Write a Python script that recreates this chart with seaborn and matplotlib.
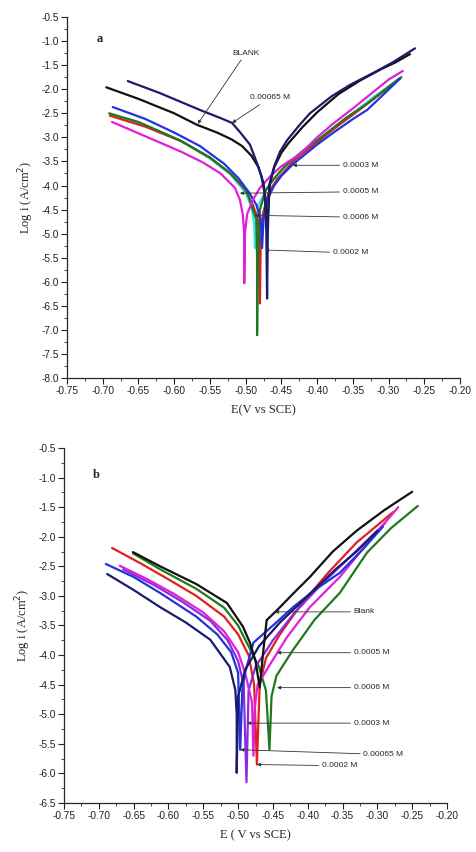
import pandas as pd
import numpy as np
import matplotlib
matplotlib.use("Agg")
import matplotlib.pyplot as plt
import seaborn as sns
from matplotlib.ticker import MultipleLocator, FormatStrFormatter

# ---- panel a : curves (E in V vs SCE, log i) ----
a_blank_E = [-0.695, -0.650, -0.600, -0.568, -0.540, -0.520, -0.505, -0.492, -0.482, -0.475, -0.472, -0.470, -0.466, -0.460, -0.450, -0.440, -0.420, -0.400, -0.370, -0.340, -0.310, -0.290, -0.270]
a_blank_L = [-1.96, -2.20, -2.50, -2.74, -2.90, -3.04, -3.18, -3.38, -3.62, -3.95, -4.40, -4.90, -3.95, -3.62, -3.32, -3.12, -2.78, -2.48, -2.10, -1.82, -1.58, -1.44, -1.27]
a_065_E = [-0.665, -0.620, -0.564, -0.535, -0.519, -0.508, -0.494, -0.485, -0.478, -0.473, -0.471, -0.470, -0.469, -0.467, -0.460, -0.452, -0.442, -0.425, -0.410, -0.380, -0.354, -0.320, -0.294, -0.263]
a_065_L = [-1.83, -2.08, -2.43, -2.60, -2.70, -2.89, -3.15, -3.50, -3.80, -4.20, -5.00, -6.35, -5.00, -4.00, -3.60, -3.30, -3.06, -2.75, -2.50, -2.15, -1.91, -1.65, -1.44, -1.15]
a_003_E = [-0.686, -0.640, -0.600, -0.564, -0.530, -0.510, -0.495, -0.485, -0.479, -0.477, -0.475, -0.470, -0.460, -0.450, -0.434, -0.400, -0.378, -0.350, -0.330, -0.310, -0.284]
a_003_L = [-2.37, -2.62, -2.90, -3.18, -3.55, -3.85, -4.15, -4.40, -4.70, -5.30, -4.70, -4.30, -4.00, -3.80, -3.56, -3.15, -2.91, -2.62, -2.43, -2.15, -1.78]
a_005_E = [-0.687, -0.640, -0.590, -0.560, -0.535, -0.515, -0.508, -0.504, -0.502, -0.502, -0.501, -0.498, -0.490, -0.480, -0.465, -0.450, -0.424, -0.400, -0.378, -0.350, -0.330, -0.300, -0.280]
a_005_L = [-2.68, -2.98, -3.30, -3.52, -3.75, -4.05, -4.30, -4.60, -5.00, -6.03, -5.00, -4.60, -4.30, -4.05, -3.80, -3.60, -3.35, -3.00, -2.72, -2.40, -2.16, -1.80, -1.62]
a_green_E = [-0.691, -0.650, -0.592, -0.550, -0.522, -0.505, -0.498, -0.491, -0.485, -0.484, -0.484, -0.483, -0.480, -0.472, -0.460, -0.445, -0.420, -0.390, -0.360, -0.330, -0.300, -0.282]
a_green_L = [-2.50, -2.68, -3.06, -3.42, -3.74, -4.00, -4.14, -4.45, -4.72, -5.50, -7.11, -5.50, -4.50, -4.10, -3.85, -3.60, -3.28, -2.95, -2.60, -2.30, -1.95, -1.75]
a_002_E = [-0.690, -0.640, -0.590, -0.550, -0.522, -0.500, -0.490, -0.483, -0.481, -0.480, -0.479, -0.476, -0.468, -0.455, -0.430, -0.400, -0.370, -0.340, -0.310, -0.285]
a_002_L = [-2.55, -2.78, -3.08, -3.42, -3.74, -4.10, -4.40, -4.70, -5.20, -6.45, -5.20, -4.60, -4.15, -3.85, -3.45, -3.10, -2.75, -2.42, -2.08, -1.78]
a_006_E = [-0.690, -0.640, -0.590, -0.550, -0.522, -0.500, -0.492, -0.488, -0.487, -0.486, -0.482, -0.470, -0.450, -0.420, -0.390, -0.350, -0.320, -0.283]
a_006_L = [-2.52, -2.76, -3.08, -3.44, -3.76, -4.15, -4.45, -4.80, -5.30, -4.80, -4.40, -4.05, -3.68, -3.30, -2.95, -2.50, -2.15, -1.76]

# ---- panel b ----
b_blank_E = [-0.651, -0.612, -0.560, -0.516, -0.493, -0.483, -0.475, -0.469, -0.464, -0.459, -0.444, -0.420, -0.397, -0.364, -0.330, -0.290, -0.250]
b_blank_L = [-2.26, -2.50, -2.80, -3.12, -3.52, -3.79, -4.10, -4.55, -3.95, -3.41, -3.24, -2.95, -2.68, -2.25, -1.90, -1.55, -1.24]
b_065_E = [-0.688, -0.650, -0.612, -0.575, -0.540, -0.512, -0.504, -0.502, -0.502, -0.500, -0.490, -0.470, -0.440, -0.400, -0.360, -0.330, -0.300]
b_065_L = [-2.63, -2.90, -3.19, -3.45, -3.74, -4.20, -4.59, -5.00, -5.99, -4.70, -4.25, -3.85, -3.45, -3.00, -2.55, -2.25, -1.90]
b_003_E = [-0.690, -0.650, -0.612, -0.560, -0.530, -0.510, -0.500, -0.497, -0.494, -0.490, -0.478, -0.450, -0.421, -0.390, -0.354, -0.320, -0.292]
b_003_L = [-2.46, -2.68, -2.95, -3.35, -3.65, -3.95, -4.30, -5.60, -4.60, -4.30, -3.79, -3.50, -3.19, -2.90, -2.61, -2.20, -1.83]
b_005_E = [-0.670, -0.630, -0.590, -0.550, -0.520, -0.500, -0.490, -0.480, -0.478, -0.476, -0.472, -0.459, -0.430, -0.397, -0.354, -0.310, -0.270]
b_005_L = [-2.49, -2.72, -2.98, -3.28, -3.60, -3.95, -4.30, -4.80, -5.70, -4.90, -4.50, -4.25, -3.70, -3.19, -2.68, -2.05, -1.50]
b_002_E = [-0.681, -0.640, -0.600, -0.560, -0.520, -0.500, -0.485, -0.477, -0.473, -0.469, -0.460, -0.440, -0.410, -0.370, -0.330, -0.277]
b_002_L = [-2.19, -2.45, -2.72, -3.00, -3.35, -3.65, -4.00, -4.50, -5.85, -4.50, -4.05, -3.65, -3.15, -2.60, -2.10, -1.58]
b_006_E = [-0.651, -0.612, -0.560, -0.520, -0.500, -0.485, -0.470, -0.460, -0.455, -0.452, -0.445, -0.421, -0.390, -0.354, -0.315, -0.280, -0.242]
b_006_L = [-2.28, -2.55, -2.88, -3.20, -3.50, -3.85, -4.20, -4.60, -5.60, -4.70, -4.35, -3.91, -3.40, -2.95, -2.27, -1.85, -1.48]
b_purple_E = [-0.665, -0.620, -0.580, -0.540, -0.515, -0.500, -0.492, -0.488, -0.485, -0.475, -0.450, -0.420, -0.380, -0.340, -0.289]
b_purple_L = [-2.55, -2.82, -3.10, -3.42, -3.75, -4.10, -4.50, -6.15, -4.60, -4.20, -3.75, -3.30, -2.80, -2.35, -1.77]

# annotation labels: text, arrow tip (E, logi), text position (E, logi)
a_labels = ["BLANK", "0.00065 M", "0.0003 M", "0.0005 M", "0.0006 M", "0.0002 M"]
a_tips = [(-0.567, -2.72), (-0.519, -2.70), (-0.434, -3.58), (-0.508, -4.16), (-0.487, -4.62), (-0.473, -5.34)]
a_text = [(-0.519, -1.25), (-0.494, -2.18), (-0.364, -3.58), (-0.364, -4.13), (-0.364, -4.66), (-0.378, -5.40)]
b_labels = ["Blank", "0.0005 M", "0.0006 M", "0.0003 M", "0.00065 M", "0.0002 M"]
b_tips = [(-0.447, -3.27), (-0.444, -3.96), (-0.444, -4.55), (-0.487, -5.15), (-0.497, -5.60), (-0.473, -5.85)]
b_text = [(-0.334, -3.27), (-0.334, -3.96), (-0.334, -4.55), (-0.334, -5.15), (-0.320, -5.68), (-0.380, -5.87)]

def frame(curves):
    rows = []
    for name, E, L in curves:
        rows.append(pd.DataFrame({"E": E, "logi": L, "curve": name}))
    return pd.concat(rows, ignore_index=True)

df_a = frame([("cyan", a_006_E, a_006_L), ("red", a_002_E, a_002_L), ("green", a_green_E, a_green_L),
              ("blue", a_003_E, a_003_L), ("magenta", a_005_E, a_005_L),
              ("black", a_blank_E, a_blank_L), ("navy", a_065_E, a_065_L)])
df_b = frame([("red", b_002_E, b_002_L), ("green", b_006_E, b_006_L), ("purple", b_purple_E, b_purple_L),
              ("magenta", b_005_E, b_005_L), ("blue", b_003_E, b_003_L),
              ("navy", b_065_E, b_065_L), ("black", b_blank_E, b_blank_L)])

pal = {"black": "#111111", "navy": "#1a1a6e", "blue": "#2233dd", "green": "#1f7a1f",
       "magenta": "#e020d8", "red": "#e02020", "cyan": "#40e0e8", "purple": "#8a2be2"}

sns.set_style("ticks")
plt.rcParams["font.family"] = ["Liberation Sans", "DejaVu Sans"]
plt.rcParams["axes.unicode_minus"] = False

fig = plt.figure(figsize=(4.76, 8.52), dpi=100)
ax_a = fig.add_axes([0.1408, 0.5563, 0.8256, 0.4237])
ax_b = fig.add_axes([0.1345, 0.0575, 0.8046, 0.4167])

for ax, df, ylo, labels, tips, texts, tag, xl in [
        (ax_a, df_a, -8.0, a_labels, a_tips, a_text, "a", "E(V vs SCE)"),
        (ax_b, df_b, -6.5, b_labels, b_tips, b_text, "b", "E ( V vs SCE)")]:
    sns.lineplot(data=df, x="E", y="logi", hue="curve", units="curve", estimator=None,
                 sort=False, palette=pal, hue_order=list(dict.fromkeys(df["curve"])),
                 linewidth=1.6, legend=False, ax=ax)
    ax.set_xlim(-0.75, -0.20)
    ax.set_ylim(ylo, -0.5)
    ax.xaxis.set_major_locator(MultipleLocator(0.05))
    ax.xaxis.set_minor_locator(MultipleLocator(0.025))
    ax.yaxis.set_major_locator(MultipleLocator(0.5))
    ax.yaxis.set_minor_locator(MultipleLocator(0.25))
    ax.xaxis.set_major_formatter(FormatStrFormatter("%.2f"))
    ax.yaxis.set_major_formatter(FormatStrFormatter("%.1f"))
    ax.tick_params(which="major", length=4, width=0.8, labelsize=7.3, colors="#222222", pad=2)
    ax.tick_params(which="minor", length=2, width=0.6)
    for s in ["left", "bottom"]:
        ax.spines[s].set_linewidth(0.9)
    sns.despine(ax=ax)
    ax.set_xlabel(xl, family="Liberation Serif", fontsize=9, labelpad=6)
    ax.set_ylabel("Log i (A/cm$^2$)", family="Liberation Serif", fontsize=9, labelpad=4)
    ax.text(0.075, 0.93 if tag == "a" else 0.915, tag, transform=ax.transAxes,
            family="Liberation Serif", fontweight="bold", fontsize=9)
    for lab, tip, tx in zip(labels, tips, texts):
        ax.annotate(lab, xy=tip, xytext=tx, fontsize=6, va="center", ha="left",
                    arrowprops=dict(arrowstyle="-|>", lw=0.6, color="#333333",
                                    mutation_scale=5, shrinkA=0, shrinkB=0))

fig.savefig("out.png", dpi=100)
